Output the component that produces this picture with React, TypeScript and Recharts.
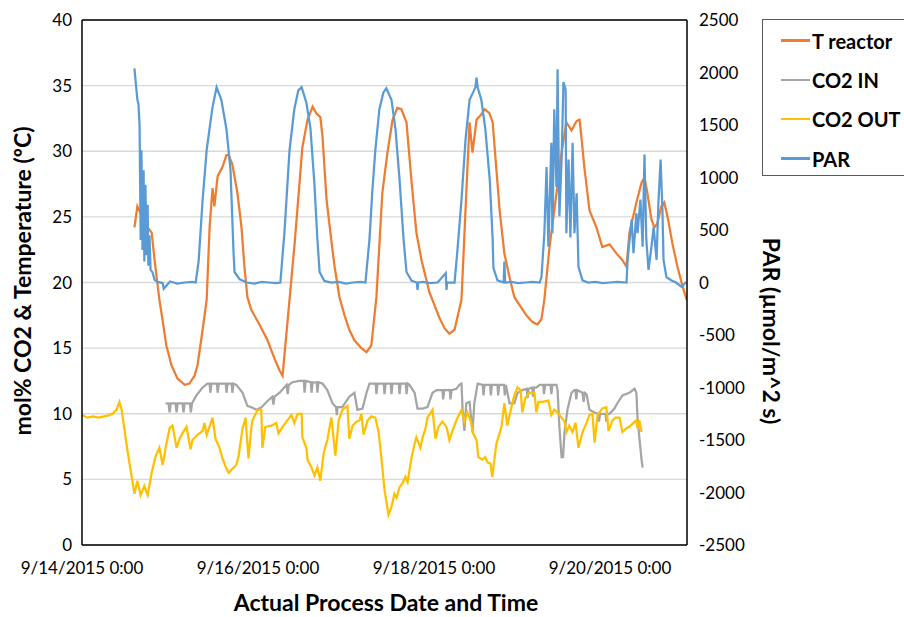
import React from "react";
import {
  LineChart,
  Line,
  XAxis,
  YAxis,
  CartesianGrid,
  ReferenceLine,
} from "recharts";

// hours since 9/14/2015 0:00
const dateTicks = [0, 48, 96, 144];
const dateLabels = ["9/14/2015 0:00", "9/16/2015 0:00", "9/18/2015 0:00", "9/20/2015 0:00"];
const leftTicks = [0, 5, 10, 15, 20, 25, 30, 35, 40];
const rightTicks = [-2500, -2000, -1500, -1000, -500, 0, 500, 1000, 1500, 2000, 2500];

const seriesNames = ["T reactor", "CO2 IN", "CO2 OUT", "PAR"];
const seriesColors = ["#ED7D31", "#A5A5A5", "#FFC000", "#5B9BD5"];

const tReactorHours = [
  14.3, 15.1, 16.5, 17.9, 19.0, 19.8, 21.1, 22.0, 23.0, 24.4, 26.0, 28.0, 29.3, 30.7, 31.5, 32.9,
  34.0, 34.8, 35.6, 36.1, 37.0, 38.3, 39.4, 40.0, 41.0, 42.4, 43.5, 44.3, 45.1, 46.2, 48.4, 50.6,
  52.5, 53.9, 54.7, 56.6, 58.0, 59.3, 60.1, 61.5, 62.9, 63.9, 65.0, 65.6, 66.7, 68.0, 68.9, 70.2,
  71.6, 72.9, 74.3, 76.2, 77.6, 78.9, 80.3, 81.9, 83.3, 84.7, 86.0, 87.1, 88.5, 89.9, 91.2, 92.6,
  94.8, 96.1, 97.5, 98.9, 100.2, 101.6, 103.5, 104.8, 105.7, 106.5, 107.6, 108.9, 109.8, 111.1,
  112.0, 113.9, 115.2, 116.6, 117.9, 119.3, 121.2, 122.8, 124.2, 125.3, 126.1, 127.5, 129.4,
  130.8, 132.1, 133.5, 134.9, 135.7, 136.2, 137.0, 138.4, 140.3, 141.9, 143.9, 145.8, 147.4,
  148.5, 149.3, 151.2, 152.6, 153.4, 154.2, 155.3, 156.1, 156.9, 158.0, 158.8, 159.7, 161.0,
  162.4, 163.8, 164.9,
];
const tReactorValues = [
  24.2, 25.8, 25.0, 24.2, 23.8, 21.7, 18.7, 17.1, 15.2, 13.7, 12.7, 12.2, 12.3, 12.9, 13.7, 16.4,
  18.7, 24.2, 27.2, 25.8, 28.1, 28.8, 29.7, 29.7, 29.0, 26.8, 24.2, 21.2, 18.9, 17.9, 16.8, 15.6,
  14.2, 13.3, 12.9, 18.7, 23.0, 27.5, 30.3, 32.4, 33.4, 32.9, 32.6, 31.1, 26.3, 23.2, 21.2, 18.9,
  17.5, 16.4, 15.6, 15.0, 14.7, 15.2, 18.9, 26.8, 29.9, 32.4, 33.3, 33.2, 32.2, 27.6, 23.8, 21.7,
  19.2, 18.3, 17.3, 16.5, 16.1, 16.4, 18.7, 26.8, 32.2, 29.9, 32.4, 32.8, 33.2, 32.9,
  32.2, 25.5, 22.2, 20.4, 18.9, 18.3, 17.5, 17.0, 16.8, 17.2, 18.7, 22.7, 26.8,
  29.9, 32.2, 31.6, 32.3, 32.4, 31.1, 28.8, 25.5, 24.2, 22.7, 22.9, 22.2, 21.7,
  21.2, 23.8, 26.1, 27.6, 28.0, 26.8, 24.8, 24.2, 24.5, 25.8, 26.1, 25.0, 23.0,
  21.2, 19.7, 18.7,
];

const co2InHours = [
  22.8, 23.6, 23.9, 24.2, 25.5, 25.8, 26.1, 27.4, 27.7, 28.0, 29.4, 29.7, 30.0, 31.2, 32.9, 34.2,
  34.8, 35.0, 35.3, 36.8, 37.0, 37.3, 39.2, 39.4, 39.7, 40.8, 41.0, 41.3, 42.1, 43.8, 45.1, 46.2,
  47.6, 49.0, 50.3, 51.9, 52.2, 52.5, 53.9, 55.8, 56.1, 56.4, 57.4, 59.3, 60.5, 60.7, 61.0, 62.4,
  62.6, 62.9, 64.0, 64.2, 64.5, 65.6, 66.9, 68.3, 69.3, 69.5, 69.7, 71.0, 72.9, 74.3, 75.1, 76.5,
  77.6, 78.4, 80.1, 80.3, 80.6, 82.3, 82.5, 82.8, 84.2, 84.4, 84.7, 86.4, 86.6, 86.9, 88.3, 88.5,
  88.8, 89.3, 90.7, 91.5, 92.9, 94.2, 95.6, 96.7, 98.3, 98.5, 98.8, 100.3, 100.5, 100.8, 102.1,
  102.9, 103.5, 103.8, 104.3, 104.8, 105.7, 106.5, 107.0, 107.9, 109.3, 109.5, 109.8, 111.3,
  111.5, 111.8, 113.3, 113.5, 113.8, 115.1, 115.3, 115.6, 116.6, 117.9, 118.8, 120.1, 121.3,
  121.5, 121.8, 122.8, 123.0, 123.3, 123.9, 124.8, 125.8, 126.0, 126.3, 127.8, 128.0, 128.3,
  129.4, 129.7, 130.2, 130.8, 131.2, 131.6, 132.4, 133.5, 134.3, 134.6, 134.8, 135.1, 136.5,
  136.8, 137.1, 137.6, 138.4, 139.8, 140.8, 141.0, 141.3, 141.9, 142.8, 143.0, 143.3, 143.9,
  145.2, 146.0, 147.4, 149.3, 150.7, 151.2, 151.5, 152.0, 152.6, 152.9,
];
const co2InValues = [
  10.8, 10.8, 10.1, 10.8, 10.8, 10.1, 10.8, 10.8, 10.1, 10.8, 10.8, 10.1, 10.8, 11.4, 12.0, 12.3,
  12.3, 11.6, 12.3, 12.3, 11.6, 12.3, 12.3, 11.6, 12.3, 12.3, 11.6, 12.3, 12.2, 11.6, 10.6, 10.5,
  10.3, 10.5, 10.9, 11.3, 10.7, 11.3, 11.6, 12.2, 11.5, 12.2, 12.4, 12.5, 12.5, 11.6, 12.5, 12.4,
  11.6, 12.4, 12.4, 11.6, 12.4, 12.3, 11.8, 10.8, 10.5, 9.9, 10.5, 10.5, 11.3, 11.6, 10.3, 10.4,
  11.6, 12.3, 12.3, 11.5, 12.3, 12.3, 11.5, 12.3, 12.3, 11.5, 12.3, 12.3, 11.5, 12.3, 12.3, 11.5,
  12.3, 12.2, 11.6, 10.4, 10.4, 10.5, 11.6, 11.8, 11.8, 11.1, 11.8, 11.8, 11.1, 11.8, 11.9,
  12.2, 12.3, 10.3, 8.7, 10.8, 10.9, 8.6, 10.8, 12.3, 12.2, 11.4, 12.2, 12.2,
  11.4, 12.2, 12.2, 11.4, 12.2, 12.2, 11.4, 12.2, 10.8, 10.8, 11.6, 11.8, 11.9,
  11.2, 11.9, 12.0, 11.3, 12.0, 12.0, 12.2, 12.2, 11.5, 12.2, 12.2, 11.5, 12.2,
  12.2, 11.8, 9.0, 6.7, 6.7, 8.6, 10.3, 11.6, 11.8, 11.8, 11.1, 11.8, 11.6,
  10.9, 11.6, 11.5, 10.3, 10.1, 10.0, 9.4, 10.0, 10.0, 10.0, 9.4, 10.0, 10.0,
  10.4, 10.8, 11.4, 11.6, 11.9, 11.6, 9.7, 8.2, 6.5, 5.9,
];

const co2OutHours = [
  0.0, 1.5, 3.0, 4.5, 6.0, 7.5, 8.3, 9.4, 10.2, 10.8, 12.4, 14.3, 15.1, 16.0, 17.0, 17.9, 19.0,
  20.0, 21.1, 22.0, 22.8, 23.9, 24.7, 25.8, 26.6, 27.4, 28.5, 29.6, 30.1, 31.5, 32.9, 33.4, 34.0,
  35.6, 36.4, 37.5, 38.3, 39.4, 40.0, 41.0, 42.1, 42.7, 43.8, 44.6, 45.4, 46.2, 46.5, 47.9, 48.9,
  49.2, 50.0, 51.7, 53.0, 53.6, 54.7, 56.0, 57.1, 57.9, 58.8, 59.9, 60.1, 61.2, 61.5, 62.6, 63.4,
  64.2, 65.0, 65.9, 66.9, 68.0, 69.1, 70.0, 71.0, 72.4, 72.9, 73.8, 74.9, 75.7, 76.2, 76.8, 77.9,
  78.9, 80.0, 80.9, 81.7, 82.5, 83.6, 84.4, 85.2, 85.8, 86.6, 87.4, 88.2, 88.8, 89.9, 90.7, 91.2,
  92.3, 92.9, 93.7, 94.2, 95.6, 96.4, 97.2, 98.3, 99.4, 100.2, 101.3, 102.4, 103.5, 104.3, 105.1,
  106.2, 106.5, 107.6, 108.1, 109.2, 110.0, 110.6, 111.4, 111.9, 113.0, 114.4, 115.2, 116.0,
  117.1, 117.9, 118.8, 119.6, 120.1, 120.9, 122.0, 123.4, 123.9, 124.5, 125.6, 127.2, 128.0,
  128.8, 129.7, 130.8, 131.6, 132.1, 132.9, 133.8, 134.6, 135.4, 136.5, 137.6, 138.4, 139.2,
  139.8, 140.6, 141.9, 143.0, 143.6, 144.7, 145.5, 146.6, 147.4, 148.5, 149.3, 150.4, 151.2,
  151.5, 152.0, 152.6,
];
const co2OutValues = [
  9.9, 9.7, 9.8, 9.7, 9.8, 9.9, 10.0, 10.3, 10.9, 10.3, 7.2, 3.9, 4.9, 3.8, 4.5, 3.8, 5.5,
  6.7, 7.4, 6.1, 7.4, 8.9, 9.1, 7.4, 8.1, 8.5, 9.0, 7.3, 8.0, 8.4, 8.7, 9.3, 8.4,
  9.7, 8.1, 7.4, 6.6, 5.8, 5.5, 5.8, 6.1, 6.8, 8.9, 9.7, 6.6, 9.0, 9.5, 10.3, 10.3,
  7.4, 9.0, 9.1, 9.3, 8.5, 9.0, 9.5, 9.9, 9.3, 10.0, 10.0, 8.2, 7.4, 6.5, 5.9, 5.3,
  5.9, 4.9, 7.0, 8.0, 9.7, 6.8, 9.5, 10.3, 10.6, 8.1, 9.1, 9.4, 9.5, 10.0, 8.4, 9.5,
  9.8, 9.7, 8.6, 6.5, 4.2, 2.3, 2.9, 3.9, 3.6, 4.4, 4.7, 5.2, 4.8, 6.7, 7.7, 8.2,
  7.4, 8.2, 8.9, 9.7, 10.3, 8.1, 9.0, 9.4, 9.0, 8.0, 8.9, 9.7, 10.3, 9.4, 10.1,
  9.3, 8.6, 8.0, 6.7, 6.5, 6.7, 6.3, 6.2, 5.2, 7.7, 9.0, 10.8, 9.1,
  10.5, 11.4, 12.0, 11.8, 10.1, 11.2, 11.6, 11.6, 10.1, 10.9, 10.9, 11.0, 9.9,
  10.3, 10.1, 9.7, 9.4, 8.6, 9.1, 8.6, 9.3, 7.4, 8.6, 9.3, 9.9, 10.0,
  7.8, 9.9, 10.4, 10.5, 8.7, 9.5, 9.7, 9.7, 8.6, 8.9, 9.0, 9.3, 9.5,
  8.9, 9.5, 8.6,
];

const parHours = [
  14.3, 15.1, 15.4, 15.7, 16.0, 16.2, 16.5, 16.8, 17.0, 17.3, 17.6, 17.9, 18.1, 18.4, 18.7, 19.2,
  19.8, 20.6, 22.0, 22.3, 24.0, 26.0, 28.0, 30.0, 31.0, 31.8, 32.9, 34.0, 34.8, 35.6, 36.7, 38.0,
  39.4, 40.5, 41.0, 41.3, 41.6, 43.0, 45.0, 47.0, 49.0, 51.0, 53.0, 54.1, 54.7, 55.2, 56.6, 57.9,
  59.0, 59.9, 61.2, 62.3, 63.4, 64.2, 64.8, 66.1, 68.0, 70.0, 72.0, 74.0, 76.0, 77.3, 78.4, 79.2,
  80.0, 81.1, 82.2, 83.0, 84.4, 85.5, 86.6, 87.7, 88.5, 89.9, 91.3, 91.5, 91.7, 93.0, 95.0, 97.0,
  99.2, 99.4, 99.6, 101.6, 102.4, 103.5, 104.6, 105.7, 106.8, 107.3, 107.6, 107.9, 108.9, 110.0,
  111.2, 112.0, 112.2, 113.3, 115.0, 115.2, 115.4, 117.0, 119.0, 121.0, 123.0, 124.8, 125.3,
  126.1, 126.7, 127.2, 128.0, 128.3, 128.8, 129.4, 129.7, 130.2, 130.8, 131.3, 131.9, 132.1,
  132.7, 133.2, 133.8, 134.3, 134.9, 135.4, 136.5, 138.0, 140.0, 142.0, 144.0, 146.0, 148.5,
  148.8, 149.9, 150.4, 151.2, 151.5, 152.3, 152.9, 153.4, 153.9, 154.5, 155.3, 155.9, 156.7,
  157.2, 157.8, 158.3, 158.6, 159.4, 160.8, 162.0, 163.5, 164.8,
];
const parValues = [
  2040, 1740, 1700, 1500, 405, 1260, 310, 1070, 200, 930, 260, 740, 160, 450, 120, 100,
  25, 5, -5, -60, 10, -10, 0, 5, 0, 200, 790, 1260, 1470, 1670, 1860, 1740,
  1460, 1070, 600, 310, 100, 30, 0, -10, 5, 0, -5, 0, 260, 470, 1260, 1650,
  1830, 1860, 1710, 1470, 930, 410, 100, 15, 0, 5, -10, 0, 5, 0, 410, 880,
  1260, 1650, 1810, 1850, 1740, 1460, 980, 410, 100, 15, 0, -70, 0, 5, -5, 0,
  90, -70, 0, 0, 310, 790, 1360, 1740, 1820, 1860, 1950, 1860, 1740, 1460,
  980, 410, 140, 20, 0, 200, 0, 5, -5, 0, 5, 0, 50,
  470, 1100, 340, 1330, 470, 1650, 910, 2030, 630, 1170, 1910, 1840, 470,
  1170, 430, 1330, 470, 850, 150, 20, 0, 5, -5, 0, 5, 0,
  215, 600, 280, 660, 470, 790, 340, 1220, 410, 120, 340, 530, 215,
  760, 1170, 690, 215, 50, 20, 0, -40, 5,
];

const toPoints = (hours: number[], values: number[]) =>
  hours.map((h, i) => ({ h, v: values[i] }));

const tReactorData = toPoints(tReactorHours, tReactorValues);
const co2InData = toPoints(co2InHours, co2InValues);
const co2OutData = toPoints(co2OutHours, co2OutValues);
const parData = toPoints(parHours, parValues);

const FONT = "Lato, 'Open Sans', sans-serif";
const tickStyle = { fontSize: 17, fill: "#000", fontFamily: FONT };

function LegendBox() {
  return (
    <div
      style={{
        position: "absolute",
        left: 762,
        top: 19,
        width: 150,
        height: 157,
        border: "1.5px solid #595959",
        boxSizing: "border-box",
        fontFamily: FONT,
        paddingTop: 1,
        background: "#fff",
      }}
    >
      {seriesNames.map((name, i) => (
        <div
          key={name}
          style={{ display: "flex", alignItems: "center", height: 39.3, paddingLeft: 18 }}
        >
          <span style={{ width: 29, height: 2.5, background: seriesColors[i], display: "inline-block" }} />
          <span style={{ fontWeight: 700, fontSize: 20, color: "#000", marginLeft: 2 }}>{name}</span>
        </div>
      ))}
    </div>
  );
}

export default function App() {
  return (
    <div style={{ position: "absolute", left: 0, top: 0, width: 904, height: 617, background: "#fff", overflow: "hidden" }}>
      <LineChart width={904} height={617} margin={{ top: 20, right: 107, bottom: 42, left: 0 }}>
        <CartesianGrid yAxisId="left" vertical={false} stroke="#D9D9D9" strokeWidth={1.3} />
        <XAxis
          dataKey="h"
          type="number"
          domain={[0, 165]}
          ticks={dateTicks}
          tickFormatter={(t: number) => dateLabels[dateTicks.indexOf(t)]}
          allowDataOverflow
          height={30}
          tick={tickStyle}
          tickLine={false}
          tickSize={8}
          tickMargin={9}
          axisLine={{ stroke: "#000", strokeWidth: 1.5 }}
        />
        <YAxis
          yAxisId="left"
          domain={[0, 40]}
          ticks={leftTicks}
          width={82}
          tick={tickStyle}
          tickLine={false}
          tickSize={4}
          tickMargin={6}
          axisLine={{ stroke: "#000", strokeWidth: 1.5 }}
        />
        <YAxis
          yAxisId="right"
          orientation="right"
          domain={[-2500, 2500]}
          ticks={rightTicks}
          width={110}
          tick={tickStyle}
          tickLine={false}
          tickSize={4}
          tickMargin={8}
          axisLine={{ stroke: "#000", strokeWidth: 1.5 }}
        />
        <ReferenceLine yAxisId="left" y={40} stroke="#000" strokeWidth={1.5} />
        <Line
          yAxisId="left"
          data={tReactorData}
          dataKey="v"
          name={seriesNames[0]}
          stroke={seriesColors[0]}
          strokeWidth={2.25}
          dot={false}
          isAnimationActive={false}
        />
        <Line
          yAxisId="left"
          data={co2InData}
          dataKey="v"
          name={seriesNames[1]}
          stroke={seriesColors[1]}
          strokeWidth={2.25}
          dot={false}
          isAnimationActive={false}
        />
        <Line
          yAxisId="left"
          data={co2OutData}
          dataKey="v"
          name={seriesNames[2]}
          stroke={seriesColors[2]}
          strokeWidth={2.25}
          dot={false}
          isAnimationActive={false}
        />
        <Line
          yAxisId="right"
          data={parData}
          dataKey="v"
          name={seriesNames[3]}
          stroke={seriesColors[3]}
          strokeWidth={2.25}
          dot={false}
          isAnimationActive={false}
        />
      </LineChart>
      <LegendBox />
      <svg
        width={904}
        height={617}
        style={{ position: "absolute", left: 0, top: 0, pointerEvents: "none" }}
        fontFamily={FONT}
        fontWeight={700}
        fontSize={23}
      >
        <text x={386} y={611} textAnchor="middle">
          Actual Process Date and Time
        </text>
        <text x={31} y={281} textAnchor="middle" transform="rotate(-90 31 281)">
          mol% CO2 &amp; Temperature (ºC)
        </text>
        <text x={763} y={331} textAnchor="middle" transform="rotate(90 763 331)">
          PAR (µmol/m^2 s)
        </text>
      </svg>
    </div>
  );
}
